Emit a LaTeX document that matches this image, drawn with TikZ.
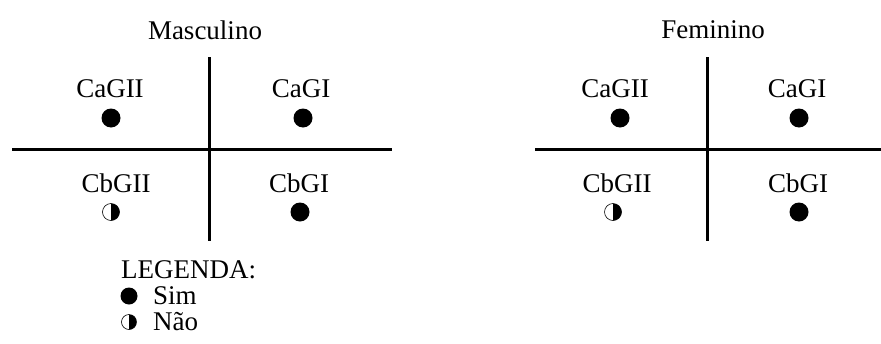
\documentclass[tikz,border=0pt]{standalone}
\usepackage{fontspec}
\setmainfont{Liberation Serif}
\begin{document}
\begin{tikzpicture}[x=1pt,y=-1pt,
  lbl/.style={inner sep=0pt,font=\fontsize{27}{32}\selectfont},
  ttl/.style={inner sep=0pt,font=\fontsize{27}{32}\selectfont},
  axis/.style={line width=3pt},
  yes/.style={circle,fill=black,inner sep=0pt,minimum size=19pt},
  half/.style={circle,draw=black,line width=0.6pt,inner sep=0pt,minimum size=17pt,
    path picture={\fill[black] (path picture bounding box.north) rectangle (path picture bounding box.south east);}}]
\useasboundingbox (0,0) rectangle (881,343);

% Masculino
\node[ttl] (tm) at (205,30) {Masculino};
\coordinate (ml) at (12,149);  \coordinate (mr) at (392,149);
\coordinate (mt) at (209,57);  \coordinate (mb) at (209,241);
\draw[axis] (ml) -- (mr);
\draw[axis] (mt) -- (mb);
\node[lbl] (m1) at (110,89) {CaGII};
\node[yes] (m1d) at (111,118) {};
\node[lbl] (m2) at (301,89) {CaGI};
\node[yes] (m2d) at (303,118) {};
\node[lbl] (m3) at (116,183) {CbGII};
\node[half] (m3d) at (111,212) {};
\node[lbl] (m4) at (299,183) {CbGI};
\node[yes] (m4d) at (300,212) {};

% Feminino
\node[ttl] (tf) at (713,30) {Feminino};
\coordinate (fl) at (535,149);  \coordinate (fr) at (881,149);
\coordinate (ft) at (707,57);   \coordinate (fb) at (707,241);
\draw[axis] (fl) -- (fr);
\draw[axis] (ft) -- (fb);
\node[lbl] (f1) at (615,89) {CaGII};
\node[yes] (f1d) at (620,118) {};
\node[lbl] (f2) at (797,89) {CaGI};
\node[yes] (f2d) at (799,118) {};
\node[lbl] (f3) at (617,183) {CbGII};
\node[half] (f3d) at (613,212) {};
\node[lbl] (f4) at (798,183) {CbGI};
\node[yes] (f4d) at (799,212) {};

% Legenda
\node[lbl,anchor=west] (lg) at (121,270) {LEGENDA:};
\node[yes,minimum size=17pt] (lg1) at (129,296) {};
\node[lbl,anchor=west] (lg1t) at (153,296) {Sim};
\node[half,minimum size=15pt] (lg2) at (129,322) {};
\node[lbl,anchor=west] (lg2t) at (153,322) {Não};
\end{tikzpicture}
\end{document}
